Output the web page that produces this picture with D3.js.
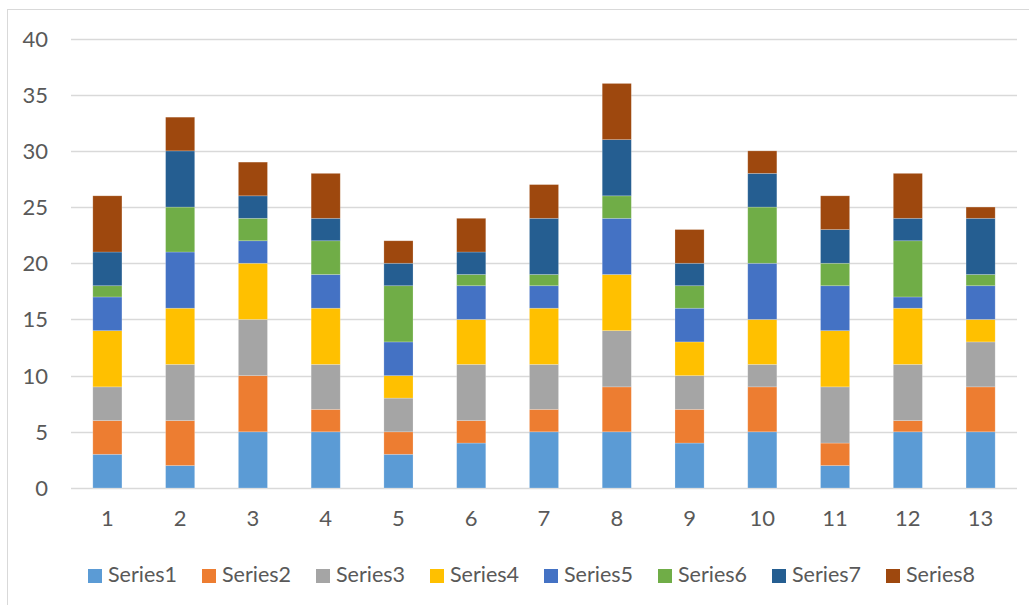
<html>
<head>
  <meta charset="UTF-8">
  <script src="https://d3js.org/d3.v7.min.js"></script>
  <style>
    body { margin: 0; background: #fff; }
    text { font-family: Lato, "Open Sans", sans-serif; fill: #595959; }
  </style>
</head>
<body>
  <svg id="chart" width="1029" height="605"></svg>
  <script>
    // data
    const categories = ["1", "2", "3", "4", "5", "6", "7", "8", "9", "10", "11", "12", "13"];
    const seriesNames = ["Series1", "Series2", "Series3", "Series4", "Series5", "Series6", "Series7", "Series8"];
    const series1 = [3, 2, 5, 5, 3, 4, 5, 5, 4, 5, 2, 5, 5];
    const series2 = [3, 4, 5, 2, 2, 2, 2, 4, 3, 4, 2, 1, 4];
    const series3 = [3, 5, 5, 4, 3, 5, 4, 5, 3, 2, 5, 5, 4];
    const series4 = [5, 5, 5, 5, 2, 4, 5, 5, 3, 4, 5, 5, 2];
    const series5 = [3, 5, 2, 3, 3, 3, 2, 5, 3, 5, 4, 1, 3];
    const series6 = [1, 4, 2, 3, 5, 1, 1, 2, 2, 5, 2, 5, 1];
    const series7 = [3, 5, 2, 2, 2, 2, 5, 5, 2, 3, 3, 2, 5];
    const series8 = [5, 3, 3, 4, 2, 3, 3, 5, 3, 2, 3, 4, 1];
    const yTicks = [0, 5, 10, 15, 20, 25, 30, 35, 40];
    const colors = ["#5B9BD5", "#ED7D31", "#A5A5A5", "#FFC000", "#4472C4", "#70AD47", "#255E91", "#9E480E"];

    const allSeries = [series1, series2, series3, series4, series5, series6, series7, series8];

    // build rows for d3.stack
    const rows = categories.map(function (c, i) {
      const row = { cat: c };
      seriesNames.forEach(function (s, j) { row[s] = allSeries[j][i]; });
      return row;
    });

    const svg = d3.select("#chart");

    // chart border (cropped on right / bottom like the original)
    svg.append("rect")
      .attr("x", 7.5).attr("y", 9.5)
      .attr("width", 1040).attr("height", 620)
      .attr("fill", "none")
      .attr("stroke", "#d9d9d9");

    const plotLeft = 71, plotRight = 1017, plotTop = 38.5, plotBottom = 488;

    const x = d3.scaleBand()
      .domain(categories)
      .range([plotLeft, plotRight])
      .paddingInner(0.6)
      .paddingOuter(0.3);

    const y = d3.scaleLinear()
      .domain([0, 40])
      .range([plotBottom, plotTop]);

    // gridlines
    svg.append("g")
      .selectAll("line")
      .data(yTicks).enter()
      .append("line")
      .attr("x1", plotLeft).attr("x2", plotRight)
      .attr("y1", function (d) { return Math.round(y(d)) + 0.5; })
      .attr("y2", function (d) { return Math.round(y(d)) + 0.5; })
      .attr("stroke", "#d9d9d9")
      .attr("stroke-width", 1.3);

    // y labels
    svg.append("g")
      .selectAll("text")
      .data(yTicks).enter()
      .append("text")
      .attr("x", 48)
      .attr("y", function (d) { return y(d) + 8; })
      .attr("text-anchor", "end")
      .style("font-size", "22px")
      .text(function (d) { return d; });

    // stacked bars
    const stacked = d3.stack().keys(seriesNames)(rows);

    svg.append("g")
      .selectAll("g")
      .data(stacked).enter()
      .append("g")
      .attr("fill", function (d, i) { return colors[i]; })
      .selectAll("rect")
      .data(function (d) { return d; }).enter()
      .append("rect")
      .attr("x", function (d) { return x(d.data.cat); })
      .attr("width", x.bandwidth())
      .attr("y", function (d) { return y(d[1]); })
      .attr("height", function (d) { return y(d[0]) - y(d[1]); })
      .attr("stroke", "#ffffff")
      .attr("stroke-opacity", 0.3)
      .attr("stroke-width", 0.7);

    // x labels
    svg.append("g")
      .selectAll("text")
      .data(categories).enter()
      .append("text")
      .attr("x", function (d) { return x(d) + x.bandwidth() / 2; })
      .attr("y", 526)
      .attr("text-anchor", "middle")
      .style("font-size", "22px")
      .text(function (d) { return d; });

    // legend
    const legend = svg.append("g")
      .selectAll("g")
      .data(seriesNames).enter()
      .append("g")
      .attr("transform", function (d, i) { return "translate(" + (88 + i * 114) + ",569)"; });

    legend.append("rect")
      .attr("width", 14).attr("height", 14)
      .attr("fill", function (d, i) { return colors[i]; });

    legend.append("text")
      .attr("x", 20)
      .attr("y", 13)
      .style("font-size", "21.5px")
      .text(function (d) { return d; });
  </script>
</body>
</html>
